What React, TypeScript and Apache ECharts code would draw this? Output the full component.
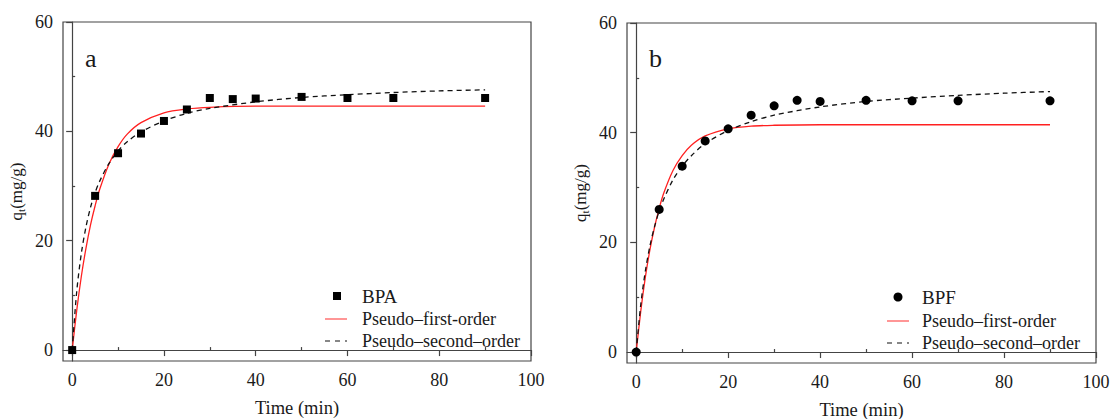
import React, { useEffect, useRef } from 'react';
import * as echarts from 'echarts';

const sampleTime = [0, 5, 10, 15, 20, 25, 30, 35, 40, 50, 60, 70, 90];
const bpaQt = [0, 28.2, 36.0, 39.6, 41.9, 44.0, 46.1, 45.9, 46.0, 46.3, 46.1, 46.1, 46.1];
const bpfQt = [0, 26.0, 33.9, 38.5, 40.7, 43.2, 44.9, 45.9, 45.7, 45.9, 45.8, 45.8, 45.8];

const fitTime = [0, 1, 2, 3, 4, 5, 6, 8, 10, 12, 15, 20, 25, 30, 40, 50, 60, 70, 80, 90];
const bpaPfo = [0, 7.3, 13.5, 18.6, 22.9, 26.4, 29.4, 34.0, 37.2, 39.5, 41.6, 43.4, 44.1, 44.4, 44.6, 44.6, 44.6, 44.6, 44.6, 44.6];
const bpaPso = [0, 10.8, 17.7, 22.5, 26.1, 28.8, 30.9, 34.1, 36.4, 38.1, 39.9, 41.9, 43.3, 44.2, 45.4, 46.2, 46.7, 47.1, 47.4, 47.6];
const bpfPfo = [0, 7.5, 13.7, 18.7, 22.8, 26.2, 29.0, 33.1, 35.8, 37.7, 39.4, 40.7, 41.2, 41.35, 41.45, 41.45, 41.45, 41.45, 41.45, 41.45];
const bpfPso = [0, 8.7, 14.8, 19.4, 22.9, 25.7, 27.9, 31.4, 33.9, 35.8, 38.0, 40.4, 42.0, 43.2, 44.7, 45.7, 46.3, 46.8, 47.2, 47.5];

const xMajor = [0, 20, 40, 60, 80, 100];
const xMinor = [10, 30, 50, 70, 90];
const yMajor = [0, 20, 40, 60];
const yMinor = [10, 30, 50];

const panelLabels = ['a', 'b'];
const seriesNames = ['BPA', 'BPF'];
const fitNames = ['Pseudo\u2013first-order', 'Pseudo\u2013second\u2013order'];

const FONT = 'Liberation Serif';
const AX = '#444';
const TXT = '#1a1a1a';

const zip = (xs: number[], ys: number[]) => xs.map((x, i) => [x, ys[i]]);

export default function App() {
  const ref = useRef<HTMLDivElement>(null);
  useEffect(() => {
    if (!ref.current) return;
    const chart = echarts.init(ref.current, undefined, { renderer: 'svg' });

    const grids = [
      { left: 63, top: 22, width: 468, height: 339 },
      { left: 627, top: 23, width: 469, height: 340 },
    ];

    const xAxes: any[] = [];
    const yAxes: any[] = [];
    grids.forEach((_, g) => {
      xAxes.push({
        type: 'value', gridIndex: g, min: -2, max: 100,
        name: 'Time (min)', nameLocation: 'middle', nameGap: 37,
        nameTextStyle: { fontFamily: FONT, fontSize: 18.5, color: TXT },
        axisLine: { show: true, lineStyle: { color: AX, width: 1.2 } },
        axisTick: { show: true, inside: false, length: 6, customValues: xMajor, lineStyle: { color: AX, width: 1.2 } },
        axisLabel: { show: true, customValues: xMajor, margin: 10, fontFamily: FONT, fontSize: 18, color: TXT },
        splitLine: { show: false },
      });
      xAxes.push({
        type: 'value', gridIndex: g, min: -2, max: 100,
        axisLine: { show: false },
        axisTick: { show: true, inside: false, length: 3, customValues: xMinor, lineStyle: { color: AX, width: 1.2 } },
        axisLabel: { show: false },
        splitLine: { show: false },
      });
      yAxes.push({
        type: 'value', gridIndex: g, min: -2, max: 60,
        name: '{q|q}{t|t}{q|(mg/g)}', nameLocation: 'middle', nameGap: 37, nameRotate: 90,
        nameTextStyle: {
          fontFamily: FONT, fontSize: 17, color: TXT,
          rich: {
            q: { fontFamily: FONT, fontSize: 17, color: TXT, lineHeight: 19 },
            t: { fontFamily: FONT, fontSize: 11, color: TXT, lineHeight: 19, verticalAlign: 'bottom', padding: [6, 0, 0, 0] },
          },
        },
        axisLine: { show: true, lineStyle: { color: AX, width: 1.2 } },
        axisTick: { show: true, inside: false, length: 6, customValues: yMajor, lineStyle: { color: AX, width: 1.2 } },
        axisLabel: { show: true, customValues: yMajor, margin: 10, fontFamily: FONT, fontSize: 18, color: TXT },
        splitLine: { show: false },
      });
      yAxes.push({
        type: 'value', gridIndex: g, min: -2, max: 60,
        axisLine: { show: false },
        axisTick: { show: true, inside: false, length: 3, customValues: yMinor, lineStyle: { color: AX, width: 1.2 } },
        axisLabel: { show: false },
        splitLine: { show: false },
      });
    });

    const mk = (g: number) => ({ xAxisIndex: g * 2, yAxisIndex: g * 2 });
    const series: any[] = [
      { type: 'line', ...mk(0), data: zip(fitTime, bpaPfo), smooth: 0.3, showSymbol: false, symbol: 'none',
        lineStyle: { color: '#ff2020', width: 1.3 }, z: 3 },
      { type: 'line', ...mk(0), data: zip(fitTime, bpaPso), smooth: 0.3, showSymbol: false, symbol: 'none',
        lineStyle: { color: '#111', width: 1.3, type: [5, 4] }, z: 4 },
      { type: 'scatter', ...mk(0), data: zip(sampleTime, bpaQt), symbol: 'rect', symbolSize: 8,
        itemStyle: { color: '#000', opacity: 1 }, z: 5 },
      { type: 'line', ...mk(1), data: zip(fitTime, bpfPfo), smooth: 0.3, showSymbol: false, symbol: 'none',
        lineStyle: { color: '#ff2020', width: 1.3 }, z: 3 },
      { type: 'line', ...mk(1), data: zip(fitTime, bpfPso), smooth: 0.3, showSymbol: false, symbol: 'none',
        lineStyle: { color: '#111', width: 1.3, type: [5, 4] }, z: 4 },
      { type: 'scatter', ...mk(1), data: zip(sampleTime, bpfQt), symbol: 'circle', symbolSize: 9,
        itemStyle: { color: '#000', opacity: 1 }, z: 5 },
    ];

    const legendTxt = (text: string, x: number, y: number, size: number) => ({
      type: 'text', x, y,
      style: { text, fontFamily: FONT, fontSize: size, fill: TXT, verticalAlign: 'middle', align: 'left' },
    });
    const legendBlock = (g: number, mx: number, tx: number, ys: number[], lx0: number, lx1: number) => [
      g === 0
        ? { type: 'rect', shape: { x: mx - 4, y: ys[0] - 4, width: 8, height: 8 }, style: { fill: '#000' } }
        : { type: 'circle', shape: { cx: mx, cy: ys[0], r: 4.5 }, style: { fill: '#000' } },
      legendTxt(seriesNames[g], tx, ys[0], 19),
      { type: 'line', shape: { x1: lx0, y1: ys[1], x2: lx1, y2: ys[1] }, style: { stroke: '#ff5050', lineWidth: 1.2 } },
      legendTxt(fitNames[0], tx, ys[1], 18),
      { type: 'line', shape: { x1: lx0, y1: ys[2], x2: lx1, y2: ys[2] }, style: { stroke: '#111', lineWidth: 1.2, lineDash: [5, 5] } },
      legendTxt(fitNames[1], tx, ys[2], 18),
    ];

    const graphic: any[] = [
      { type: 'text', x: 85, y: 58, style: { text: panelLabels[0], fontFamily: FONT, fontSize: 26, fill: TXT, verticalAlign: 'middle' } },
      { type: 'text', x: 649, y: 58, style: { text: panelLabels[1], fontFamily: FONT, fontSize: 26, fill: TXT, verticalAlign: 'middle' } },
      ...legendBlock(0, 337, 362, [296, 319, 341], 325, 347),
      ...legendBlock(1, 898, 922, [297, 321, 343], 887, 909),
    ];

    chart.setOption({
      animation: false,
      backgroundColor: '#fff',
      grid: grids.map((g) => ({
        ...g, show: true, borderColor: AX, borderWidth: 1.2, backgroundColor: 'transparent',
        containLabel: false, outerBoundsMode: 'none',
      })),
      xAxis: xAxes,
      yAxis: yAxes,
      series,
      graphic,
    });
    return () => chart.dispose();
  }, []);
  return <div ref={ref} style={{ position: 'fixed', left: 0, top: 0, width: 1110, height: 419 }} />;
}
